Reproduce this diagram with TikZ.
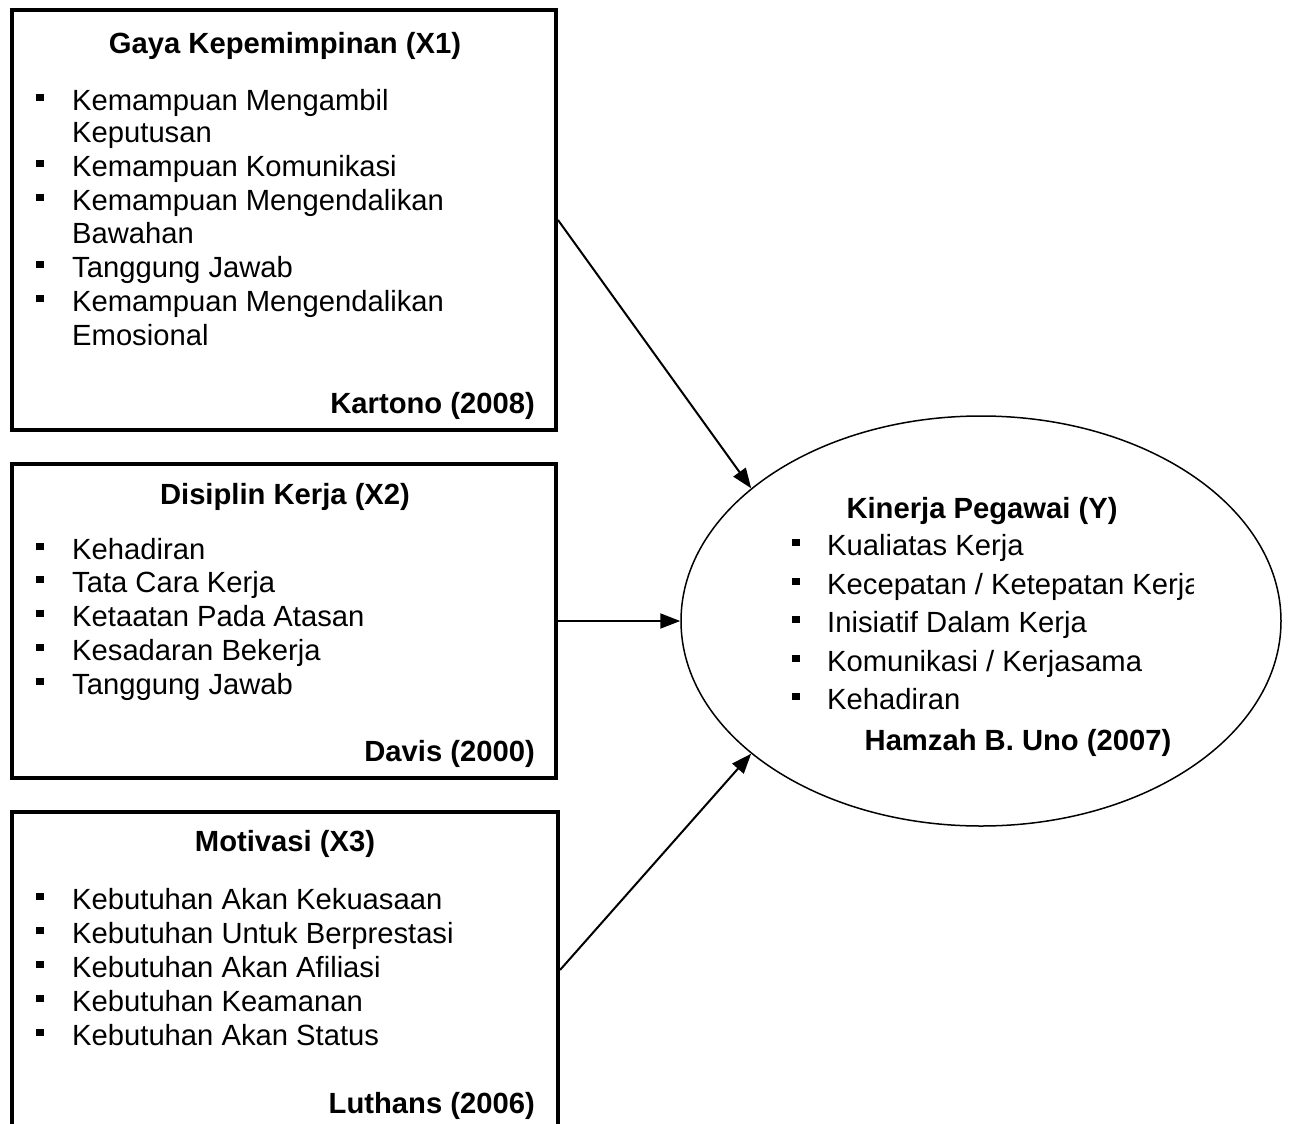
\documentclass[tikz,border=0pt]{standalone}
\usepackage{fontspec}
\setmainfont{Liberation Sans}
\usetikzlibrary{arrows.meta,shapes.geometric}
\newcommand\bitem[5]{%
  \node[bul] (#1b) at (#2,#3) {};
  \node[itm] (#1) at (#4,#3) {#5};}
\begin{document}
\begin{tikzpicture}[x=1pt,y=-1pt,
  txt/.style={inner sep=0pt, font=\fontsize{29.2}{34}\selectfont},
  itm/.style={txt, anchor=base west},
  ttl/.style={txt, anchor=base, font=\fontsize{29.2}{34}\selectfont\bfseries},
  src/.style={txt, anchor=base east, font=\fontsize{29.2}{34}\selectfont\bfseries},
  bul/.style={rectangle, fill=black, minimum size=7.5pt, inner sep=0pt, anchor=south west, yshift=8.5pt},
  box/.style={draw, line width=4pt, rectangle, inner sep=0pt},
  arr/.style={line width=2pt, -{Triangle[length=20pt,width=15pt]}}]
\useasboundingbox (0,0) rectangle (1290,1124);

% Box 1
\node[box, minimum width=544pt, minimum height=420pt] (b1) at (284,220) {};
\node[ttl] (t1) at (285,54) {Gaya Kepemimpinan (X1)};
\bitem{a1}{36}{110}{72}{Kemampuan Mengambil}
\node[itm] (a1c) at (72,142) {Keputusan};
\bitem{a2}{36}{176}{72}{Kemampuan Komunikasi}
\bitem{a3}{36}{210}{72}{Kemampuan Mengendalikan}
\node[itm] (a3c) at (72,243) {Bawahan};
\bitem{a4}{36}{277}{72}{Tanggung Jawab}
\bitem{a5}{36}{311}{72}{Kemampuan Mengendalikan}
\node[itm] (a5c) at (72,345) {Emosional};
\node[src] (s1) at (535,413) {Kartono (2008)};

% Box 2
\node[box, minimum width=544pt, minimum height=314pt] (b2) at (284,621) {};
\node[ttl] (t2) at (285,504) {Disiplin Kerja (X2)};
\bitem{c1}{36}{559}{72}{Kehadiran}
\bitem{c2}{36}{592}{72}{Tata Cara Kerja}
\bitem{c3}{36}{626}{72}{Ketaatan Pada Atasan}
\bitem{c4}{36}{660}{72}{Kesadaran Bekerja}
\bitem{c5}{36}{694}{72}{Tanggung Jawab}
\node[src] (s2) at (535,761) {Davis (2000)};

% Box 3 (cut by the page bottom)
\node[box, minimum width=546pt, minimum height=316pt] (b3) at (285,970) {};
\node[ttl] (t3) at (285,851) {Motivasi (X3)};
\bitem{d1}{36}{909}{72}{Kebutuhan Akan Kekuasaan}
\bitem{d2}{36}{943}{72}{Kebutuhan Untuk Berprestasi}
\bitem{d3}{36}{977}{72}{Kebutuhan Akan Afiliasi}
\bitem{d4}{36}{1011}{72}{Kebutuhan Keamanan}
\bitem{d5}{36}{1045}{72}{Kebutuhan Akan Status}
\node[src] (s3) at (535,1113) {Luthans (2006)};

% Ellipse
\node[draw, ellipse, line width=1.5pt, minimum width=600pt, minimum height=410pt, inner sep=0pt] (Y) at (981,621) {};
\node[ttl] (ty) at (982,518) {Kinerja Pegawai (Y)};
\bitem{y1}{792}{555}{827}{Kualiatas Kerja}
\begin{scope}
\clip (780,560) rectangle (1193,610);
\bitem{y2}{792}{594}{827}{Kecepatan / Ketepatan Kerja}
\end{scope}
\bitem{y3}{792}{632}{827}{Inisiatif Dalam Kerja}
\bitem{y4}{792}{671}{827}{Komunikasi / Kerjasama}
\bitem{y5}{792}{709}{827}{Kehadiran}
\node[ttl] (sy) at (1018,750) {Hamzah B. Uno (2007)};

% Arrows
\draw[arr] (b1.east) -- (Y.150);
\draw[arr] (b2.east) -- (Y.west);
\draw[arr] (b3.east) -- (Y.210);
\end{tikzpicture}
\end{document}
